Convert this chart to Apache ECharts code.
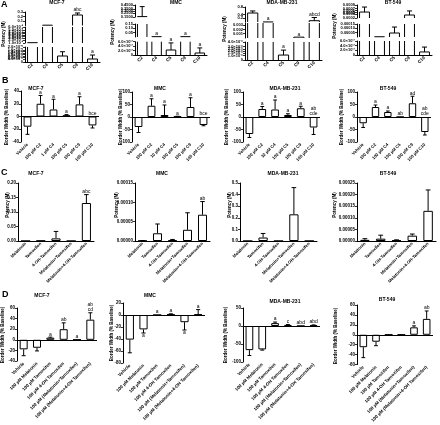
<!DOCTYPE html>
<html><head><meta charset="utf-8">
<script src="https://cdn.jsdelivr.net/npm/echarts@6/dist/echarts.min.js"></script>
<style>html,body{margin:0;padding:0;background:#fff}#c{width:440px;height:425px}</style>
</head><body><div id="c"></div>
<script>
const FF = '"Liberation Sans", Arial, sans-serif';

// ---------- Row A : potency of compounds (broken axes) ----------
const catsA = ['C2', 'C4', 'C5', 'C9', 'C10'];
const aMcf7Val = [0.0011, 0.007, 8e-6, 0.233, 4e-6];
const aMcf7Err = [0, 0, 5.7e-6, 0.045, 5.3e-6];
const aMcf7Sig = ['', '', '', 'abc', 'a'];
const aMmcVal = [0.16, 0.004, 2.25e-7, 0.004, 0.9e-7];
const aMmcErr = [0.25, 0, 3.2e-7, 0, 2.3e-7];
const aMmcSig = ['', 'a', 'a', 'a', 'a'];
const aMdaVal = [0.48, 0.004, 1.1e-6, 0.0002, 0.07];
const aMdaErr = [0.11, 0, 1.1e-6, 0, 0.17];
const aMdaSig = ['', 'a', 'a', 'a', 'abcd'];
const aBtVal = [0.00052, 3e-6, 4.6e-5, 0.00036, 1.3e-7];
const aBtErr = [0.00027, 0, 6.9e-5, 0.00022, 2.1e-7];
const aBtSig = ['', '', '', '', ''];

// ---------- Row B : border width, compounds ----------
const catsBMcf7 = ['Vehicle', '100 µM C2', '1 µM C4', '100 µM C5', '100 µM C9', '100 µM C10'];
const catsBMmc = ['Vehicle', '100 µM C2', '10 µM C4', '100 µM C5', '100 µM C9', '100 µM C10'];
const catsBMda = ['Vehicle', '100 µM C2', '10 µM C4', '100 µM C5', '100 µM C9', '100 µM C10'];
const catsBBt = ['Vehicle', '100 µM C2', '100 µM C4', '100 µM C5', '100 µM C9', '100 µM C10'];
const bMcf7Val = [-16, 20, 11, 2, 19, -14];
const bMcf7Err = [12, 13, 16, 1, 12, 4];
const bMcf7Sig = ['', 'a', 'a', 'a', 'a', 'bce'];
const bMmcVal = [-40, 45, 8, 2, 40, -32];
const bMmcErr = [22, 28, 40, 1, 37, 3];
const bMmcSig = ['', 'a', 'a', 'a', 'a', 'bce'];
const bMdaVal = [-68, 32, 30, 8, 35, -42];
const bMdaErr = [14, 10, 38, 5, 8, 28];
const bMdaSig = ['', 'a', 'a', 'a', 'a', 'ab\ncde'];
const bBtVal = [-25, 40, 20, 0, 55, -60];
const bBtErr = [17, 8, 4, 0, 28, 12];
const bBtSig = ['', 'a', 'a', 'ab', 'ad', 'ab\ncde'];

// ---------- Row C : potency, melatonin / tamoxifen ----------
const catsC = ['Melatonin', 'Tamoxifen', '4-OH-Tamoxifen', 'Melatonin+Tamoxifen', 'Melatonin+4-OH-Tamoxifen'];
const cMcf7Val = [0, 0.001, 0.009, 0, 0.131];
const cMcf7Err = [0, 0, 0.024, 0, 0.029];
const cMcf7Sig = ['', '', '', '', 'abc'];
const cMmcVal = [6e-7, 2.0e-5, 2e-6, 2.9e-5, 6.8e-5];
const cMmcErr = [5e-7, 2.4e-5, 2e-6, 4.4e-5, 3.4e-5];
const cMmcSig = ['', '', '', '', 'ab'];
const cMdaVal = [0, 0.03, 0, 0.23, 0];
const cMdaErr = [0, 0.035, 0, 0.23, 0];
const cMdaSig = ['', '', '', '', ''];
const cBtVal = [5e-6, 1e-5, 3e-6, 2.3e-5, 1.3e-4];
const cBtErr = [5e-6, 1.5e-5, 2e-6, 7e-6, 9e-5];
const cBtSig = ['', '', '', '', ''];

// ---------- Row D : border width, melatonin / tamoxifen ----------
const catsD = ['Vehicle', '100 µM Melatonin', '100 µM Tamoxifen', '100 µM 4-OH Tamoxifen',
  '100 µM (Melatonin+Tamoxifen)', '100 µM (Melatonin+4-OH Tamoxifen)'];
const dMcf7Val = [-18, -15, 4, 20, 0, 38];
const dMcf7Err = [12, 6, 1, 12, 0, 13];
const dMcf7Sig = ['', '', 'a', 'ab', 'a', 'ab\ncd'];
const dMmcVal = [-41, -24, 0, 1, -12, 1];
const dMmcErr = [22, 6, 0, 1, 13, 8];
const dMmcSig = ['', 'a', 'a', 'a', 'a', 'a'];
const dMdaVal = [-67, -65, 8, 3, 0, 2];
const dMdaErr = [15, 2, 3, 1, 0, 1];
const dMdaSig = ['', '', 'a', 'c', 'abd', 'abd'];
const dBtVal = [-25, -14, 0, 0, 15, 32];
const dBtErr = [21, 8, 0, 0, 3, 16];
const dBtSig = ['', '', '', '', 'a', 'ab'];

// ---------- helpers ----------
const SUP = {'-': '⁻', '0': '⁰', '1': '¹', '2': '²', '3': '³', '4': '⁴', '5': '⁵', '6': '⁶', '7': '⁷', '8': '⁸', '9': '⁹'};
function sci(v) {
  if (Math.abs(v) < 1e-15) return '0';
  const e = Math.floor(Math.log10(v) + 1e-9);
  const m = v / Math.pow(10, e);
  return m.toFixed(1) + '×10' + String(e).split('').map(c => SUP[c]).join('');
}
const fx = n => (v => v.toFixed(n));
const fInt = v => String(Math.round(v));

const option = {animation: false, backgroundColor: '#fff', grid: [], xAxis: [], yAxis: [], series: [], graphic: []};

function addGrid(x0, x1, y0, y1) {
  option.grid.push({left: x0, top: y0, width: x1 - x0, height: y1 - y0, containLabel: false});
  return option.grid.length - 1;
}
function addXAxis(gi, cats, line, labels, fs) {
  option.xAxis.push({type: 'category', gridIndex: gi, data: cats, boundaryGap: true,
    axisLine: {show: line, onZero: false, lineStyle: {color: '#000', width: 1}},
    axisTick: {show: false},
    axisLabel: {show: labels, interval: 0, rotate: 45, fontSize: fs, fontWeight: 'bold', fontFamily: FF, color: '#000', margin: 2},
    splitLine: {show: false}});
}
function addYAxis(gi, min, max, interval, fmt, fs, hideMin, hideMax) {
  option.yAxis.push({type: 'value', gridIndex: gi, min: min, max: max, interval: interval,
    axisLine: {show: true, onZero: false, lineStyle: {color: '#000', width: 1}},
    axisTick: {show: true, length: 2, lineStyle: {color: '#000', width: 0.8}},
    axisLabel: {fontSize: fs, fontFamily: FF, fontWeight: 'bold', color: '#000', margin: 2, formatter: fmt,
      showMinLabel: !hideMin, showMaxLabel: !hideMax},
    splitLine: {show: false}});
}
function txt(x, y, text, font, align, va, rot) {
  return {type: 'text', x: x, y: y, rotation: rot || 0, silent: true,
    style: {text: text, font: font, fill: '#000', align: align, verticalAlign: va,
      textAlign: align, textVerticalAlign: va}};
}
const L = (x1, y1, x2, y2) => ({type: 'line', shape: {x1: x1, y1: y1, x2: x2, y2: y2}, style: {stroke: '#000', lineWidth: 1}});

// Ordinary bar panel (rows B, C, D)
function barPanel(p) {
  const gi = addGrid(p.x0, p.x1, p.y0, p.y1);
  addXAxis(gi, p.cats, !p.zero, true, p.fs);
  addYAxis(gi, p.min, p.max, p.interval, p.fmt, 4.5);
  const idx = option.xAxis.length - 1;
  const bar = {type: 'bar', xAxisIndex: idx, yAxisIndex: idx, data: p.vals, barWidth: '60%', silent: true,
    itemStyle: {color: '#fff', borderColor: '#000', borderWidth: 1}};
  if (p.zero) bar.markLine = {symbol: 'none', silent: true, label: {show: false},
    lineStyle: {color: '#000', width: 1, type: 'solid'}, data: [{yAxis: 0}]};
  option.series.push(bar);
  option.series.push({type: 'custom', xAxisIndex: idx, yAxisIndex: idx, z: 3, silent: true,
    data: p.vals.map((v, i) => [i, v]),
    renderItem: function (params, api) {
      const i = params.dataIndex, v = p.vals[i], e = p.errs[i], s = p.sigs[i];
      const band = api.size([1, 0])[0];
      const cx = api.coord([i, 0])[0];
      const hw = band * 0.15;
      const dir = v < 0 ? -1 : 1;
      const yv = api.coord([i, v])[1];
      const ye = api.coord([i, v + dir * e])[1];
      const ch = [];
      if (e > 0) { ch.push(L(cx, yv, cx, ye)); ch.push(L(cx - hw, ye, cx + hw, ye)); }
      if (s) {
        if (v < 0 && p.negBelow) ch.push(txt(cx, ye + 0.5, s, '5px ' + FF, 'center', 'top'));
        else {
          const top = v >= 0 ? v + e : 0;
          ch.push(txt(cx, api.coord([i, top])[1] - 0.5, s, '5px ' + FF, 'center', 'bottom'));
        }
      }
      return {type: 'group', children: ch};
    }});
}

// Broken-axis panel (row A): one grid per axis segment
function segPanel(p) {
  p.segs.forEach(function (sg, k) {
    const gi = addGrid(p.x0, p.x1, sg.y0, sg.y1);
    addXAxis(gi, catsA, k === 0, k === 0, 4.5);
    addYAxis(gi, sg.min, sg.max, sg.interval, sg.fmt, 4, sg.hideMin, sg.hideMax);
    const idx = option.xAxis.length - 1;
    const thr = k === 0 ? -Infinity : p.segs[k - 1].max;
    option.series.push({type: 'custom', xAxisIndex: idx, yAxisIndex: idx, silent: true,
      data: p.vals.map((v, i) => [i, v]),
      renderItem: function (params, api) {
        const i = params.dataIndex, v = p.vals[i], e = p.errs[i], s = p.sigs[i];
        const band = api.size([1, 0])[0];
        const hw = band * 0.33, cw = band * 0.17;
        const cx = api.coord([i, sg.min])[0];
        const Y = val => api.coord([i, Math.min(Math.max(val, sg.min), sg.max)])[1];
        const ch = [];
        if (v > thr && v > sg.min) {
          const yb = Y(sg.min), yt = Y(v);
          ch.push(L(cx - hw, yb, cx - hw, yt));
          ch.push(L(cx + hw, yb, cx + hw, yt));
          if (v <= sg.max) ch.push(L(cx - hw, yt, cx + hw, yt));
        }
        const top = v + e;
        if (e > 0 && top > thr && top > sg.min && v < sg.max) {
          const y1 = Y(Math.max(v, sg.min)), y2 = Y(top);
          ch.push(L(cx, y1, cx, y2));
          if (top <= sg.max) ch.push(L(cx - cw, y2, cx + cw, y2));
        }
        const lt = e > 0 ? top : v;
        if (s && lt > thr && lt <= sg.max) ch.push(txt(cx, Y(lt) - 0.5, s, '5px ' + FF, 'center', 'bottom'));
        return {type: 'group', children: ch};
      }});
  });
}

// ---------- Row A ----------
segPanel({x0: 25, x1: 100, vals: aMcf7Val, errs: aMcf7Err, sigs: aMcf7Sig, segs: [
  {y0: 47, y1: 62, min: 0, max: 2e-5, interval: 2e-6, fmt: sci},
  {y0: 27, y1: 43, min: 0.001, max: 0.006, interval: 0.0005, fmt: sci},
  {y0: 12, y1: 25.5, min: 0, max: 0.3, interval: 0.1, fmt: fx(1), hideMin: true}]});
segPanel({x0: 135, x1: 207, vals: aMmcVal, errs: aMmcErr, sigs: aMmcSig, segs: [
  {y0: 41.7, y1: 55, min: 0, max: 6e-7, interval: 2e-7, fmt: sci},
  {y0: 24, y1: 37, min: 0, max: 0.15, interval: 0.05, fmt: fx(2), hideMin: true},
  {y0: 5, y1: 17, min: 0.15, max: 0.45, interval: 0.05, fmt: fx(4)}]});
segPanel({x0: 245, x1: 322, vals: aMdaVal, errs: aMdaErr, sigs: aMdaSig, segs: [
  {y0: 42, y1: 60, min: 0, max: 4e-6, interval: 5e-7, fmt: sci},
  {y0: 23, y1: 38, min: 0, max: 0.0035, interval: 0.001, fmt: fx(3), hideMin: true, hideMax: true},
  {y0: 7, y1: 22, min: 0, max: 0.8, interval: 0.2, fmt: fx(1), hideMin: true}]});
segPanel({x0: 357, x1: 432, vals: aBtVal, errs: aBtErr, sigs: aBtSig, segs: [
  {y0: 41, y1: 55, min: 0, max: 6e-7, interval: 2e-7, fmt: sci},
  {y0: 24, y1: 37, min: 0, max: 0.00015, interval: 0.00005, fmt: fx(5), hideMin: true},
  {y0: 5, y1: 18, min: 0.0002, max: 0.0009, interval: 0.0001, fmt: fx(4)}]});

// ---------- Row B ----------
barPanel({x0: 21, x1: 99, y0: 91, y1: 142, cats: catsBMcf7, vals: bMcf7Val, errs: bMcf7Err, sigs: bMcf7Sig,
  min: -40, max: 40, interval: 20, fmt: fInt, zero: true, fs: 4.3});
barPanel({x0: 132, x1: 210, y0: 92, y1: 142, cats: catsBMmc, vals: bMmcVal, errs: bMmcErr, sigs: bMmcSig,
  min: -100, max: 100, interval: 50, fmt: fInt, zero: true, fs: 4.3});
barPanel({x0: 243, x1: 320, y0: 92, y1: 142, cats: catsBMda, vals: bMdaVal, errs: bMdaErr, sigs: bMdaSig,
  min: -100, max: 100, interval: 50, fmt: fInt, zero: true, fs: 4.3});
barPanel({x0: 357, x1: 431, y0: 92, y1: 142, cats: catsBBt, vals: bBtVal, errs: bBtErr, sigs: bBtSig,
  min: -100, max: 100, interval: 50, fmt: fInt, zero: true, fs: 4.3});

// ---------- Row C ----------
barPanel({x0: 18, x1: 94, y0: 183, y1: 241, cats: catsC, vals: cMcf7Val, errs: cMcf7Err, sigs: cMcf7Sig,
  min: 0, max: 0.2, interval: 0.05, fmt: fx(2), zero: false, fs: 4.3});
barPanel({x0: 135, x1: 210, y0: 183, y1: 241, cats: catsC, vals: cMmcVal, errs: cMmcErr, sigs: cMmcSig,
  min: 0, max: 0.00015, interval: 0.00005, fmt: fx(5), zero: false, fs: 4.3});
barPanel({x0: 240, x1: 317, y0: 183, y1: 241, cats: catsC, vals: cMdaVal, errs: cMdaErr, sigs: cMdaSig,
  min: 0, max: 0.5, interval: 0.1, fmt: fx(1), zero: false, fs: 4.3});
barPanel({x0: 357, x1: 436, y0: 183, y1: 241, cats: catsC, vals: cBtVal, errs: cBtErr, sigs: cBtSig,
  min: 0, max: 0.00025, interval: 0.00005, fmt: fx(5), zero: false, fs: 4.3});

// ---------- Row D ----------
barPanel({x0: 17, x1: 97, y0: 308, y1: 361, cats: catsD, vals: dMcf7Val, errs: dMcf7Err, sigs: dMcf7Sig,
  min: -40, max: 60, interval: 20, fmt: fInt, zero: true, negBelow: true, fs: 4.5});
barPanel({x0: 123, x1: 205, y0: 303, y1: 363, cats: catsD, vals: dMmcVal, errs: dMmcErr, sigs: dMmcSig,
  min: -80, max: 20, interval: 20, fmt: fInt, zero: true, negBelow: true, fs: 4.5});
barPanel({x0: 243, x1: 320, y0: 308, y1: 362, cats: catsD, vals: dMdaVal, errs: dMdaErr, sigs: dMdaSig,
  min: -100, max: 50, interval: 50, fmt: fInt, zero: true, negBelow: true, fs: 4.5});
barPanel({x0: 357, x1: 433, y0: 305, y1: 367, cats: catsD, vals: dBtVal, errs: dBtErr, sigs: dBtSig,
  min: -60, max: 60, interval: 20, fmt: fInt, zero: true, negBelow: true, fs: 4.5});

// ---------- texts ----------
const BIG = 'bold 9px ' + FF, TTL = 'bold 5px ' + FF, AX = 'bold 4.5px ' + FF;
const R = Math.PI / 2;
option.graphic = [
  txt(1, 0, 'A', BIG, 'left', 'top'),
  txt(2, 76, 'B', BIG, 'left', 'top'),
  txt(1, 168, 'C', BIG, 'left', 'top'),
  txt(2, 290, 'D', BIG, 'left', 'top'),
  txt(57, 3, 'MCF-7', TTL, 'center', 'middle'),
  txt(176, 3, 'MMC', TTL, 'center', 'middle'),
  txt(282, 3, 'MDA-MB-231', TTL, 'center', 'middle'),
  txt(393, 3, 'BT-549', TTL, 'center', 'middle'),
  txt(36, 89, 'MCF-7', TTL, 'center', 'middle'),
  txt(160, 89, 'MMC', TTL, 'center', 'middle'),
  txt(285, 89, 'MDA-MB-231', TTL, 'center', 'middle'),
  txt(388, 89, 'BT-549', TTL, 'center', 'middle'),
  txt(36, 174, 'MCF-7', TTL, 'center', 'middle'),
  txt(162, 174, 'MMC', TTL, 'center', 'middle'),
  txt(283, 174, 'MDA-MB-231', TTL, 'center', 'middle'),
  txt(388, 174, 'BT-549', TTL, 'center', 'middle'),
  txt(42, 296, 'MCF-7', TTL, 'center', 'middle'),
  txt(150, 296, 'MMC', TTL, 'center', 'middle'),
  txt(285, 302, 'MDA-MB-231', TTL, 'center', 'middle'),
  txt(387, 300, 'BT-549', TTL, 'center', 'middle'),
  txt(4, 34, 'Potency (M)', AX, 'center', 'middle', R),
  txt(113, 32, 'Potency (M)', AX, 'center', 'middle', R),
  txt(225, 29, 'Potency (M)', AX, 'center', 'middle', R),
  txt(335, 26, 'Potency (M)', AX, 'center', 'middle', R),
  txt(7, 117, 'Border Width (% Baseline)', AX, 'center', 'middle', R),
  txt(121, 117, 'Border Width (% Baseline)', AX, 'center', 'middle', R),
  txt(227, 117, 'Border Width (% Baseline)', AX, 'center', 'middle', R),
  txt(342, 117, 'Border Width (% Baseline)', AX, 'center', 'middle', R),
  txt(8, 205, 'Potency (M)', AX, 'center', 'middle', R),
  txt(117, 205, 'Potency (M)', AX, 'center', 'middle', R),
  txt(230, 205, 'Potency (M)', AX, 'center', 'middle', R),
  txt(335, 205, 'Potency (M)', AX, 'center', 'middle', R),
  txt(3, 335, 'Border Width (% Baseline)', AX, 'center', 'middle', R),
  txt(112, 333, 'Border Width (% Baseline)', AX, 'center', 'middle', R),
  txt(226, 335, 'Border Width (% Baseline)', AX, 'center', 'middle', R),
  txt(336, 336, 'Border Width (% Baseline)', AX, 'center', 'middle', R)
];

const chart = echarts.init(document.getElementById('c'), null, {renderer: 'canvas'});
chart.setOption(option);
</script></body></html>
